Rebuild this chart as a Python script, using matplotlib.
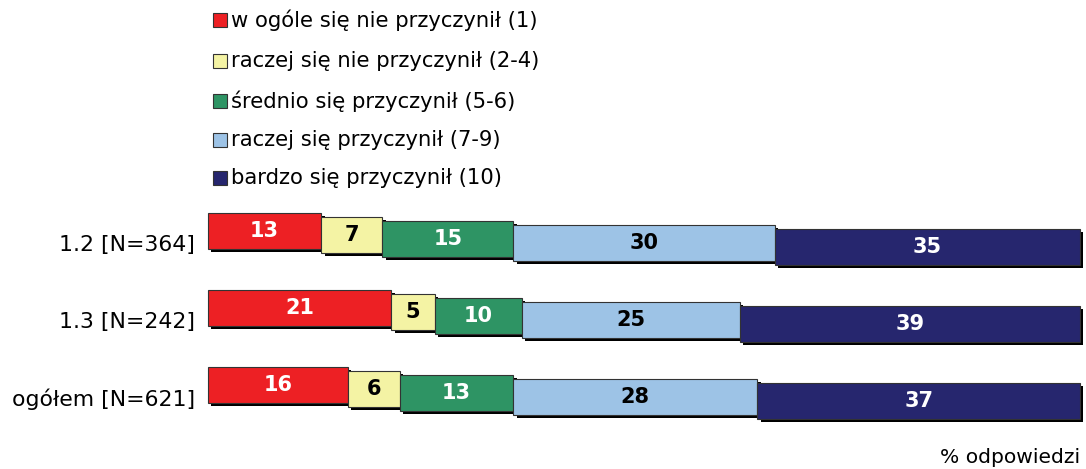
import matplotlib
matplotlib.use("Agg")
import matplotlib.pyplot as plt
from matplotlib.patches import Rectangle
import matplotlib.patheffects as pe
import numpy as np

categories = ["1.2 [N=364]", "1.3 [N=242]", "ogółem [N=621]"]
series_labels = ["w ogóle się nie przyczynił (1)",
                 "raczej się nie przyczynił (2-4)",
                 "średnio się przyczynił (5-6)",
                 "raczej się przyczynił (7-9)",
                 "bardzo się przyczynił (10)"]
values = [
    [13, 21, 16],
    [7, 5, 6],
    [15, 10, 13],
    [30, 25, 28],
    [35, 39, 37],
]
colors = ["#ED2024", "#F4F3A4", "#2E9464", "#9DC3E6", "#26266E"]
text_colors = ["white", "black", "white", "black", "white"]
xlabel = "% odpowiedzi"

W, H = 1086, 469
fig = plt.figure(figsize=(W / 100, H / 100), dpi=100)
plt.rcParams['font.family'] = ['DejaVu Sans']

left_px, right_px = 208, 1080
top_px, bot_px = 195, 430
ax = fig.add_axes([left_px / W, 1 - bot_px / H, (right_px - left_px) / W, (bot_px - top_px) / H])
ax.set_xlim(0, 100)
row_px = 77.0
y0 = 231.0
ax.set_ylim((bot_px - y0) / row_px, (top_px - y0) / row_px)
ax.axis("off")

bar_h = 36 / row_px
step = 4 / row_px
shadow = [pe.SimplePatchShadow(offset=(2.5, -2.5), shadow_rgbFace="black", alpha=1.0), pe.Normal()]

y = np.arange(len(categories))
cum = np.zeros(len(categories))
for j, (vals, c, tc) in enumerate(zip(values, colors, text_colors)):
    vals = np.array(vals, dtype=float)
    bars = ax.barh(y + j * step, vals, left=cum, height=bar_h, color=c,
                   edgecolor="#333333", linewidth=0.8, zorder=2 + j)
    for b in bars:
        b.set_path_effects(shadow)
        b.set_clip_on(False)
    for yi, (l, v) in enumerate(zip(cum, vals)):
        ax.text(l + v / 2, yi + j * step, f"{int(v)}", ha="center", va="center",
                color=tc, fontsize=15, fontweight="bold", zorder=20)
    cum += vals

for yi, cat in enumerate(categories):
    ax.text(-1.5, yi + 2 * step + 0.08, cat, ha="right", va="center", fontsize=15.8, color="black")

# legend
leg_y = [20, 61, 101, 140, 178]
for ly, c, lab in zip(leg_y, colors, series_labels):
    fig.add_artist(Rectangle((213 / W, 1 - (ly + 7) / H), 14 / W, 14 / H,
                             facecolor=c, edgecolor="#333333", linewidth=0.8,
                             transform=fig.transFigure))
    fig.text(231 / W, 1 - ly / H, lab, ha="left", va="center", fontsize=15.2)

fig.text(1080 / W, 1 - 457 / H, xlabel, ha="right", va="center", fontsize=14.6)

fig.savefig("out.png", dpi=100)
